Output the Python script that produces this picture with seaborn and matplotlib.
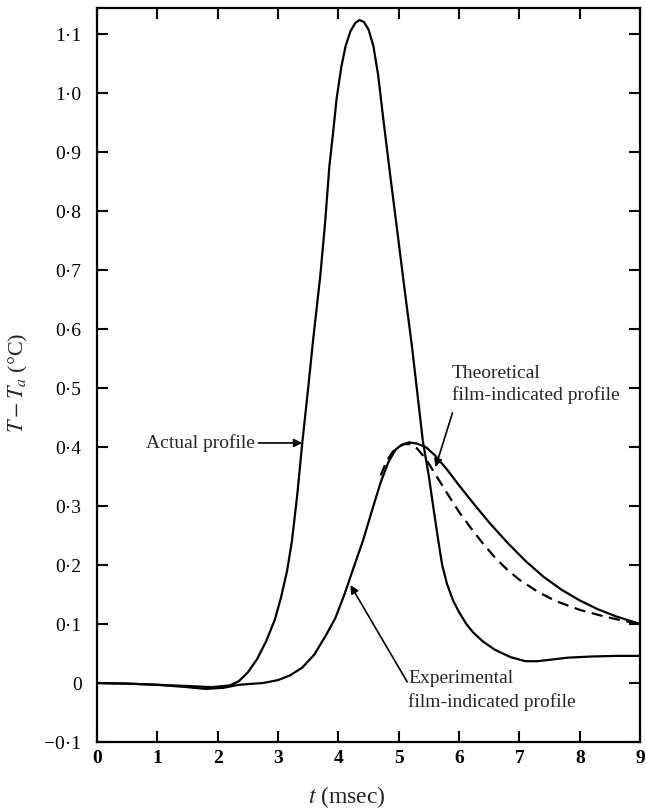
import matplotlib
matplotlib.use("Agg")
import matplotlib.pyplot as plt
import seaborn as sns
import pandas as pd

# ---------------- data ----------------
actual_t = [0.0, 0.5, 1.0, 1.5, 1.9, 2.2, 2.35, 2.5, 2.65, 2.8, 2.95, 3.05, 3.15,
            3.23, 3.32, 3.4, 3.5, 3.58, 3.7, 3.78, 3.85, 3.92, 3.97, 4.05, 4.12,
            4.2, 4.28, 4.35, 4.42, 4.5, 4.58, 4.66, 4.74, 4.86, 4.98, 5.1, 5.22,
            5.31, 5.4, 5.5, 5.57, 5.65, 5.72, 5.8, 5.9, 6.0, 6.12, 6.24, 6.4, 6.6,
            6.85, 7.1, 7.3, 7.55, 7.8, 8.2, 8.6, 9.0]
actual_v = [0.0, -0.001, -0.003, -0.005, -0.007, -0.004, 0.003, 0.018, 0.04, 0.07,
            0.108, 0.145, 0.19, 0.24, 0.32, 0.405, 0.5, 0.58, 0.69, 0.78, 0.875,
            0.94, 0.99, 1.045, 1.08, 1.105, 1.119, 1.124, 1.121, 1.108, 1.08, 1.03,
            0.96, 0.86, 0.763, 0.665, 0.57, 0.49, 0.41, 0.35, 0.30, 0.245, 0.2,
            0.168, 0.14, 0.12, 0.1, 0.085, 0.07, 0.056, 0.044, 0.037, 0.037, 0.04,
            0.043, 0.045, 0.046, 0.046]

exper_t = [0.0, 0.5, 1.0, 1.5, 1.8, 2.1, 2.35, 2.75, 3.0, 3.2, 3.4, 3.6, 3.8,
           3.95, 4.1, 4.25, 4.41, 4.55, 4.7, 4.83, 4.95, 5.05, 5.17, 5.3, 5.45,
           5.6, 5.8, 6.0, 6.25, 6.5, 6.8, 7.1, 7.4, 7.7, 8.0, 8.3, 8.6, 9.0]
exper_v = [0.0, -0.001, -0.003, -0.007, -0.010, -0.008, -0.003, 0.0, 0.005, 0.013,
           0.026, 0.048, 0.082, 0.11, 0.15, 0.195, 0.242, 0.29, 0.34, 0.375, 0.396,
           0.404, 0.408, 0.406, 0.400, 0.386, 0.362, 0.335, 0.303, 0.272, 0.238,
           0.207, 0.180, 0.158, 0.140, 0.125, 0.113, 0.100]

theor_t = [4.7, 4.8, 4.9, 5.0, 5.1, 5.2, 5.3, 5.45, 5.6, 5.8, 6.0, 6.2, 6.4, 6.6,
           6.8, 7.0, 7.3, 7.6, 8.0, 8.4, 8.7, 9.0]
theor_v = [0.352, 0.376, 0.392, 0.401, 0.405, 0.405, 0.398, 0.38, 0.355, 0.322,
           0.29, 0.262, 0.236, 0.212, 0.192, 0.175, 0.155, 0.139, 0.124, 0.113,
           0.106, 0.100]

x_ticks = [0, 1, 2, 3, 4, 5, 6, 7, 8, 9]
x_tick_labels = ["0", "1", "2", "3", "4", "5", "6", "7", "8", "9"]
y_ticks = [-0.1, 0.0, 0.1, 0.2, 0.3, 0.4, 0.5, 0.6, 0.7, 0.8, 0.9, 1.0, 1.1]
y_tick_labels = ["\u22120\u00b71", "0", "0\u00b71", "0\u00b72", "0\u00b73", "0\u00b74",
                 "0\u00b75", "0\u00b76", "0\u00b77", "0\u00b78", "0\u00b79",
                 "1\u00b70", "1\u00b71"]

# ---------------- styling ----------------
sns.set_theme(style="ticks")
plt.rcParams["font.family"] = ["Liberation Serif", "DejaVu Serif"]
plt.rcParams["mathtext.fontset"] = "stix"

fig = plt.figure(figsize=(6.46, 8.09), dpi=100)
ax = fig.add_axes([0.150, 0.0828, 0.841, 0.907])

df_a = pd.DataFrame({"t": actual_t, "v": actual_v})
df_e = pd.DataFrame({"t": exper_t, "v": exper_v})
df_th = pd.DataFrame({"t": theor_t, "v": theor_v})

sns.lineplot(data=df_a, x="t", y="v", ax=ax, color="black", lw=1.6,
             sort=False, estimator=None)
sns.lineplot(data=df_e, x="t", y="v", ax=ax, color="black", lw=1.6,
             sort=False, estimator=None)
sns.lineplot(data=df_th, x="t", y="v", ax=ax, color="black", lw=1.6,
             sort=False, estimator=None, dashes=False, linestyle=(0, (5, 3)))

ax.set_xlim(0, 9)
ax.set_ylim(-0.1, 1.144)
ax.set_xticks(x_ticks)
ax.set_xticklabels(x_tick_labels)
ax.set_yticks(y_ticks)
ax.set_yticklabels(y_tick_labels)

ax.tick_params(axis="both", direction="in", length=8, width=1.5,
               top=True, right=True, labelsize=14, colors="black")
ax.tick_params(axis="y", pad=11)
ax.tick_params(axis="x", pad=6)
for lbl in ax.get_xticklabels():
    lbl.set_fontweight("bold")
for s in ax.spines.values():
    s.set_linewidth(1.6)
    s.set_color("black")

ax.set_xlabel("$t$ (msec)", fontsize=17)
ax.set_ylabel("$T-T_a$ (\u00b0C)", fontsize=16)
ax.xaxis.set_label_coords(0.46, -0.057)
ax.yaxis.set_label_coords(-0.123, 0.489)

# annotations
arrow = dict(arrowstyle="-|>", color="black", lw=1.2, mutation_scale=12,
             shrinkA=0, shrinkB=0)
ax.annotate("Actual profile", xy=(3.40, 0.407), xytext=(2.62, 0.407),
            ha="right", va="center", fontsize=14, arrowprops=arrow)
ax.annotate("", xy=(5.61, 0.366), xytext=(5.89, 0.458), arrowprops=arrow)
ax.text(5.88, 0.525, "Theoretical", ha="left", va="center", fontsize=14)
ax.text(5.88, 0.488, "film-indicated profile", ha="left", va="center", fontsize=14)
ax.annotate("", xy=(4.20, 0.166), xytext=(5.14, 0.002), arrowprops=arrow)
ax.text(5.16, 0.008, "Experimental", ha="left", va="center", fontsize=14)
ax.text(5.15, -0.032, "film-indicated profile", ha="left", va="center", fontsize=14)

fig.savefig("out.png", dpi=100)
